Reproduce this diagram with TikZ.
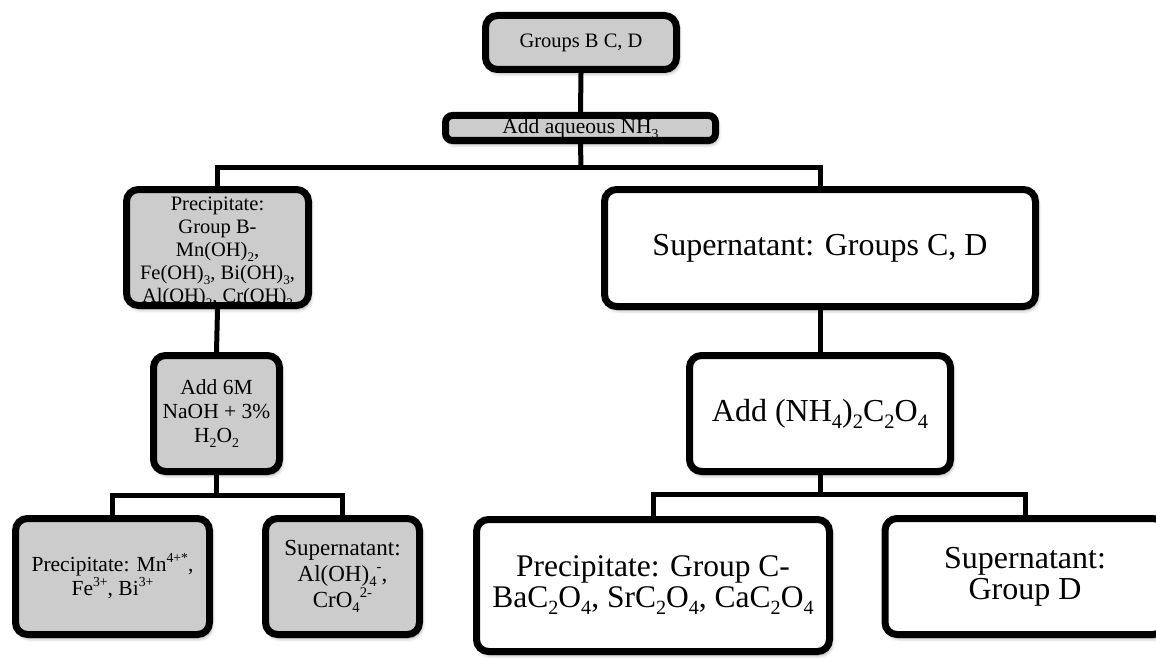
\documentclass[tikz,border=0pt]{standalone}
\usepackage{fontspec}
\usepackage{graphicx}
\setmainfont{Liberation Serif}
\newcommand\chsub[1]{\raisebox{-0.22em}{\scalebox{0.64}{#1}}}
\newcommand\chsup[1]{\raisebox{0.42em}{\scalebox{0.64}{#1}}}
\usetikzlibrary{shadows.blur}
\definecolor{boxgray}{RGB}{204,204,204}
\tikzset{
  basebox/.style={draw=black, line width=7pt, rounded corners=12pt, align=center, inner sep=0pt,
    blur shadow={shadow xshift=2pt, shadow yshift=-3.5pt, shadow blur radius=4pt, shadow opacity=40}},
  gbox/.style={basebox, fill=boxgray},
  wbox/.style={basebox, fill=white},
  conn/.style={line width=5pt},
  smalltxt/.style={font=\fontsize{21.5}{24}\selectfont},
  largetxt/.style={font=\fontsize{32}{31}\selectfont},
}
\begin{document}
\begin{tikzpicture}[x=1pt, y=-1pt]
\useasboundingbox (0,0) rectangle (1156,658);
\clip (0,0) rectangle (1156,658);

% boxes
\node[gbox, font=\fontsize{20.5}{23}\selectfont, minimum width=191pt, minimum height=54pt] (top) at (581,42.5) {Groups B C, D};
\node[gbox, rounded corners=7pt, minimum width=270pt, minimum height=25pt] (nh3) at (580.5,128) {};
\node[gbox, minimum width=182pt, minimum height=116pt] (precB) at (217.5,247.5) {};
\node[wbox, largetxt, minimum width=431pt, minimum height=117pt] (supCD) at (820,248) {Supernatant: Groups C, D};
\node[gbox, smalltxt, minimum width=126pt, minimum height=116pt] (add6M) at (216.5,413.5) {Add 6M\\NaOH + 3\%\\H\chsub{2}O\chsub{2}};
\node[wbox, largetxt, minimum width=261pt, minimum height=116pt] (addOx) at (820,413.5) {Add (NH\chsub{4})\chsub{2}C\chsub{2}O\chsub{4}};
\node[gbox, smalltxt, minimum width=194pt, minimum height=116pt] (precMn) at (112.5,576.5) {Precipitate: Mn\chsup{4+*},\\Fe\chsup{3+}, Bi\chsup{3+}};
\node[gbox, font=\fontsize{23}{26}\selectfont, minimum width=154pt, minimum height=116pt] (supAl) at (342.5,576.5) {Supernatant:\\Al(OH)\chsub{4}\chsup{-},\\CrO\chsub{4}\chsup{2-}};
\node[wbox, font=\fontsize{31.5}{31}\selectfont, minimum width=353pt, minimum height=132pt] (precC) at (653,585.5) {Precipitate: Group C-\\BaC\chsub{2}O\chsub{4}, SrC\chsub{2}O\chsub{4}, CaC\chsub{2}O\chsub{4}};
\node[wbox, largetxt, minimum width=280pt, minimum height=116pt] (supD) at (1025,576.5) {Supernatant:\\Group D};

% texts that overflow their boxes (clipped by the box interior)
\begin{scope}
  \clip (449,119) rectangle (712,137);
  \node[font=\fontsize{21.5}{24}\selectfont, inner sep=0pt, anchor=base] (nh3t) at (580.5,133.5) {Add aqueous NH\chsub{3}};
\end{scope}
\begin{scope}
  \clip (130,193) rectangle (305,302);
  \node[font=\fontsize{20.5}{23}\selectfont, align=center, inner sep=0pt, anchor=north] (precBt) at (217.5,197) {Precipitate:\\Group B-\\Mn(OH)\chsub{2},\\Fe(OH)\chsub{3}, Bi(OH)\chsub{3},\\Al(OH)\chsub{3}, Cr(OH)\chsub{3}};
\end{scope}

% junctions
\coordinate (j1) at (581,167);
\coordinate (j2) at (216.5,495);
\coordinate (j3) at (820,494);

% connectors
\draw[conn] (top.south) -- (nh3.north);
\draw[conn] (nh3.south) -- (j1);
\draw[conn] (precB.north) |- (j1) -| (supCD.north);
\draw[conn] (precB.south) -- (add6M.north);
\draw[conn] (add6M.south) -- (j2);
\draw[conn] (precMn.north) |- (j2) -| (supAl.north);
\draw[conn] (supCD.south) -- (addOx.north);
\draw[conn] (addOx.south) -- (j3);
\draw[conn] (precC.north) |- (j3) -| (supD.north);
\end{tikzpicture}
\end{document}
